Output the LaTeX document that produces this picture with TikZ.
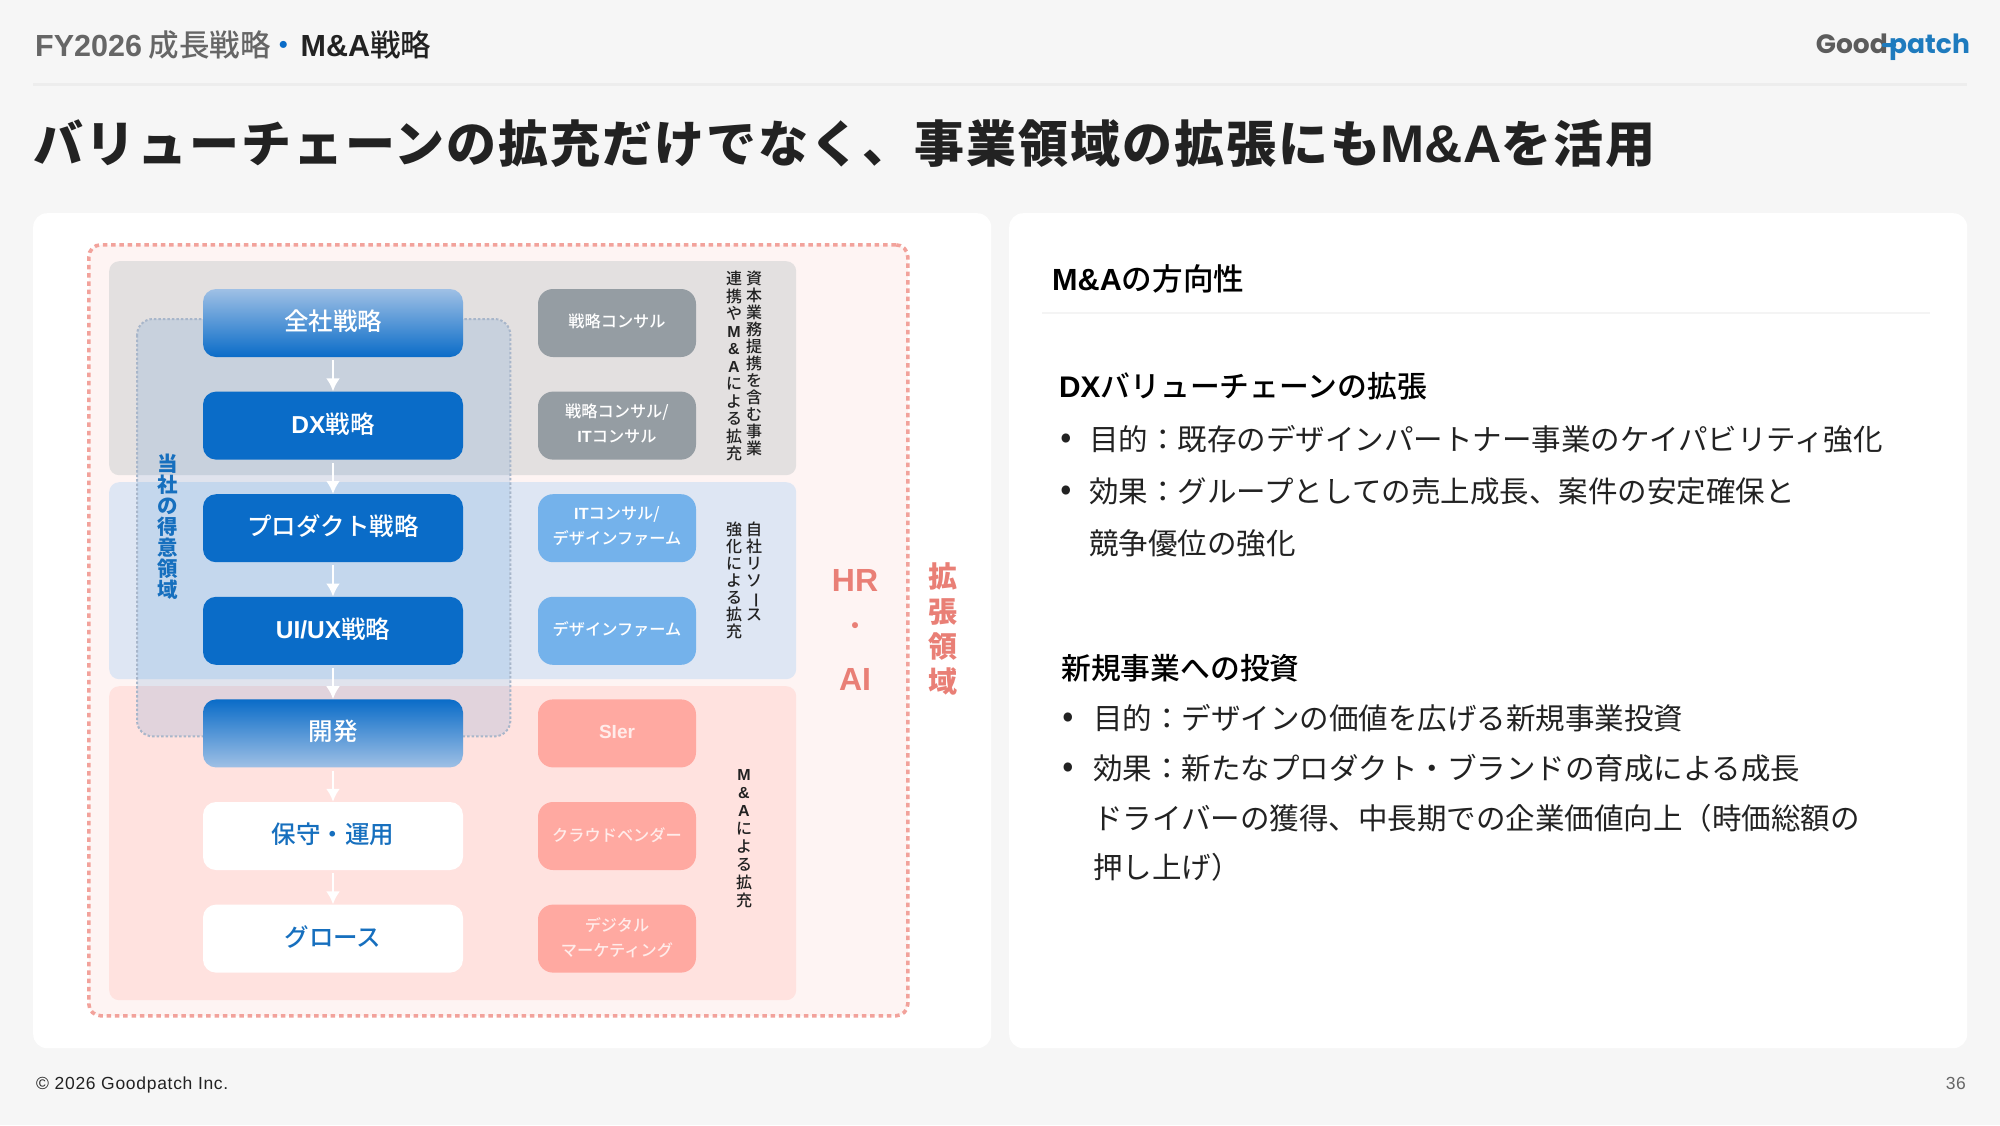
\documentclass[tikz,border=0pt]{standalone}
\usepackage{fontspec}
\setmainfont{Noto Sans CJK JP}
\newfontfamily\medfont{Noto Sans CJK JP Medium}
\newfontfamily\logofont{Poppins}
\newfontfamily\latfont{Liberation Sans}
\usetikzlibrary{arrows.meta,positioning,calc}
\definecolor{GpPage}{HTML}{F6F6F6}
\definecolor{GpRule}{HTML}{EDEDED}
\definecolor{GpInk}{HTML}{222222}
\definecolor{GpGrey}{HTML}{666666}
\definecolor{GpBlue}{HTML}{0A6CC8}
\definecolor{GpLight}{HTML}{9FC0E5}
\definecolor{GpText}{HTML}{166FBE}
\definecolor{GpSalmon}{HTML}{E97F76}
\definecolor{GpDots}{HTML}{F2A29B}
\definecolor{GpOuter}{HTML}{FEF4F3}
\definecolor{GpBandGrey}{HTML}{E3E0E0}
\definecolor{GpBandBlue}{HTML}{DEE6F3}
\definecolor{GpBandPink}{HTML}{FFE2DF}
\definecolor{GpBoxGrey}{HTML}{959DA3}
\definecolor{GpBoxBlue}{HTML}{74B2EB}
\definecolor{GpBoxPink}{HTML}{FFA9A1}
\definecolor{GpLogo}{HTML}{1E7BBE}
\definecolor{GpOverlayDots}{HTML}{A8B6CA}
\newcommand{\fsz}[2]{\fontsize{#1}{#2}\selectfont}
\newcommand{\latb}[1]{{\latfont\bfseries #1}}
\tikzset{
  band/.style={rounded corners=10pt,anchor=north west,minimum width=687pt,inner sep=0pt},
  mainbox/.style={rounded corners=13pt,minimum width=260pt,minimum height=68pt,inner sep=0pt,text height=21.6pt,text depth=6.5pt,font=\medfont\fsz{24.5}{30}},
  sidebox/.style={rounded corners=15pt,minimum width=158pt,minimum height=68pt,inner sep=0pt,align=center,text=white,text depth=5.5pt,font=\medfont\fsz{16.2}{25}},
  pinkbox/.style={sidebox,fill=GpBoxPink,text=white!78!GpBoxPink,text depth=3.5pt},
  tatelabel/.style={anchor=north,inner sep=0pt,align=center,text=GpInk,font=\medfont\fsz{16}{17}},
  bodyline/.style={anchor=west,inner sep=0pt,text=GpInk,text height=25.9pt,text depth=3.5pt,font=\fsz{29.5}{30}},
  headline/.style={anchor=west,inner sep=0pt,text=black,text height=26pt,text depth=3.6pt,font=\medfont\fsz{29.8}{30}},
  dotmark/.style={anchor=center,inner sep=0pt,text=GpInk,font=\fsz{34}{34}},
  crumbtext/.style={inner sep=0pt,text height=26.8pt,text depth=3.7pt,font=\medfont\fsz{30.5}{32}},
}
\begin{document}
\begin{tikzpicture}[x=1pt,y=-1pt]
  \useasboundingbox (0,0) rectangle (2000,1125);
  \fill[GpPage] (0,0) rectangle (2000,1125);
  % header
  \node[crumbtext,anchor=west,text=GpGrey] (crumb) at (35,45) {\latb{FY2026} 成長戦略};
  \node[crumbtext,right=-3pt of crumb,text=GpBlue] (crumbdot) {・};
  \node[crumbtext,right=1.5pt of crumbdot,text=GpInk] (crumbtail) {\latb{M\&A}戦略};
  \node[anchor=base east,inner sep=0pt,font=\logofont\bfseries\fsz{26.5}{32},text=GpGrey!90!black] (logogood) at (1888,53) {Good};
  \node[anchor=base west,inner sep=0pt,font=\logofont\bfseries\fsz{26.5}{32},text=GpLogo] (logopatch) at (1889,53) {patch};
  \fill[GpLogo,rounded corners=1pt] (1882,43) rectangle (1896,47);
  \fill[GpRule] (33,83) rectangle (1967,86);
  \node[anchor=west,inner sep=0pt,text height=44pt,text depth=6pt,font=\bfseries\fsz{50}{56}\addfontfeature{LetterSpace=4},text=GpInk] (title) at (33,143) {バリューチェーンの拡充だけでなく、事業領域の拡張にも{\fsz{53}{56}\latb{M\&A}}を活用};
  % cards
  \node[fill=white,rounded corners=14pt,anchor=north west,minimum width=958pt,minimum height=835pt,inner sep=0pt] (leftcard) at (33,213) {};
  \node[fill=white,rounded corners=14pt,anchor=north west,minimum width=958pt,minimum height=835pt,inner sep=0pt] (rightcard) at (1009,213) {};
  % left diagram
  \node[draw=GpDots,line width=3.6pt,dash pattern=on 4.5pt off 3.8pt,fill=GpOuter,rounded corners=12pt,anchor=north west,minimum width=819pt,minimum height=771pt,inner sep=0pt] (expand) at (87,243) {};
  \node[band,fill=GpBandGrey,minimum height=214pt] (bandgrey) at (109,261) {};
  \node[band,fill=GpBandBlue,minimum height=197pt] (bandblue) at (109,482) {};
  \node[band,fill=GpBandPink,minimum height=314pt] (bandpink) at (109,686) {};
  \node[fill=GpBlue,fill opacity=.12,rounded corners=16pt,anchor=north west,minimum width=373pt,minimum height=417pt,inner sep=0pt] (strength) at (137,319) {};
  \draw[GpOverlayDots,line width=2pt,dash pattern=on 2.5pt off 2pt,rounded corners=16pt] (strength.north west) rectangle (strength.south east);
  \node[anchor=north,inner sep=0pt,align=center,text=GpText,font=\bfseries\fsz{20.5}{21}] (strengthlabel) at (168,454) {当\\社\\の\\得\\意\\領\\域};
  % value chain
  \node[mainbox,top color=GpLight,bottom color=GpBlue,text=white] (corp) at (333,323) {全社戦略};
  \node[mainbox,fill=GpBlue,text=white,below=34.2pt of corp] (dx) {\latb{DX}戦略};
  \node[mainbox,fill=GpBlue,text=white,below=34.2pt of dx] (product) {プロダクト戦略};
  \node[mainbox,fill=GpBlue,text=white,below=34.2pt of product] (uiux) {\latb{UI/UX}戦略};
  \node[mainbox,top color=GpBlue,bottom color=GpLight,text=white,below=34.2pt of uiux] (dev) {開発};
  \node[mainbox,fill=white,text=GpText,below=34.2pt of dev] (ops) {保守・運用};
  \node[mainbox,fill=white,text=GpText,below=34.2pt of ops] (growth) {グロース};
  \foreach \x/\y in {corp/dx,dx/product,product/uiux,uiux/dev,dev/ops,ops/growth}{\draw[-{Latex[length=13pt,width=14pt]},line width=2.8pt,white,shorten <=3pt] (\x)--(\y);}
  % side boxes
  \node[sidebox,fill=GpBoxGrey,right=74.6pt of corp] (sconsult) {戦略コンサル};
  \node[sidebox,fill=GpBoxGrey,right=74.6pt of dx] (itconsult) {戦略コンサル/\\\latb{IT}コンサル};
  \node[sidebox,fill=GpBoxBlue,right=74.6pt of product] (itdesign) {\latb{IT}コンサル/\\デザインファーム};
  \node[sidebox,fill=GpBoxBlue,right=74.6pt of uiux] (design) {デザインファーム};
  \node[pinkbox,right=74.6pt of dev] (sier) {{\fsz{19}{25}\latb{SIer}}};
  \node[pinkbox,right=74.6pt of ops] (vendor) {クラウドベンダー};
  \node[pinkbox,right=74.6pt of growth] (digital) {デジタル\\マーケティング};
  % vertical captions
  \node[tatelabel] (capitala) at (754,271) {資\\本\\業\\務\\提\\携\\を\\含\\む\\事\\業};
  \node[tatelabel,font=\medfont\fsz{16}{17.5}] (capitalb) at (734,271) {連\\携\\や\\\latb{M}\\\latb{\&}\\\latb{A}\\に\\よ\\る\\拡\\充};
  \node[tatelabel] (ownera) at (754,522) {自\\社\\リ\\ソ\\\rotatebox[origin=c]{-90}{ー}\\ス};
  \node[tatelabel] (ownerb) at (734,522) {強\\化\\に\\よ\\る\\拡\\充};
  \node[tatelabel,font=\medfont\fsz{16}{18}] (malabel) at (744,769) {\latb{M}\\\latb{\&}\\\latb{A}\\に\\よ\\る\\拡\\充};
  \node[inner sep=0pt,text=GpSalmon,font=\fsz{32}{36}] (hr) at (855,580) {\latb{HR}};
  \node[inner sep=0pt,text=GpSalmon,font=\medfont\fsz{26}{36}] (hrdot) at (855,629) {・};
  \node[inner sep=0pt,text=GpSalmon,font=\fsz{32}{36}] (ai) at (855,679) {\latb{AI}};
  \node[anchor=north,inner sep=0pt,align=center,text=GpSalmon,font=\bfseries\fsz{29}{35}] (expandlabel) at (943,562) {拡\\張\\領\\域};
  % right card
  \node[headline,font=\medfont\fsz{30.6}{32}] (topic) at (1052,279) {\latb{M\&A}の方向性};
  \fill[GpRule!60] (1042,312) rectangle (1930,314);
  \node[headline] (dxhead) at (1059,386) {\latb{DX}バリューチェーンの拡張};
  \node[dotmark] (dxdota) at (1066,441) {•};
  \node[bodyline] (dxa) at (1089,439) {目的：既存のデザインパートナー事業のケイパビリティ強化};
  \node[dotmark] (dxdotb) at (1066,493) {•};
  \node[bodyline] (dxb) at (1089,491) {効果：グループとしての売上成長、案件の安定確保と};
  \node[bodyline] (dxc) at (1089,543) {競争優位の強化};
  \node[headline] (newhead) at (1061,668) {新規事業への投資};
  \node[dotmark] (newdota) at (1068,720) {•};
  \node[bodyline] (newa) at (1093,718) {目的：デザインの価値を広げる新規事業投資};
  \node[dotmark] (newdotb) at (1068,770) {•};
  \node[bodyline] (newb) at (1093,768) {効果：新たなプロダクト・ブランドの育成による成長};
  \node[bodyline] (newc) at (1093,818) {ドライバーの獲得、中長期での企業価値向上（時価総額の};
  \node[bodyline] (newd) at (1093,867) {押し上げ）};
  % footer
  \node[anchor=base west,inner sep=0pt,text=GpInk,font=\latfont\fsz{17.5}{20}\addfontfeature{LetterSpace=4}] (copy) at (36,1089) {© 2026 Goodpatch Inc.};
  \node[anchor=base east,inner sep=0pt,text=GpGrey,font=\latfont\fsz{17.5}{20}\addfontfeature{LetterSpace=3}] (pageno) at (1966,1089) {36};
\end{tikzpicture}
\end{document}
